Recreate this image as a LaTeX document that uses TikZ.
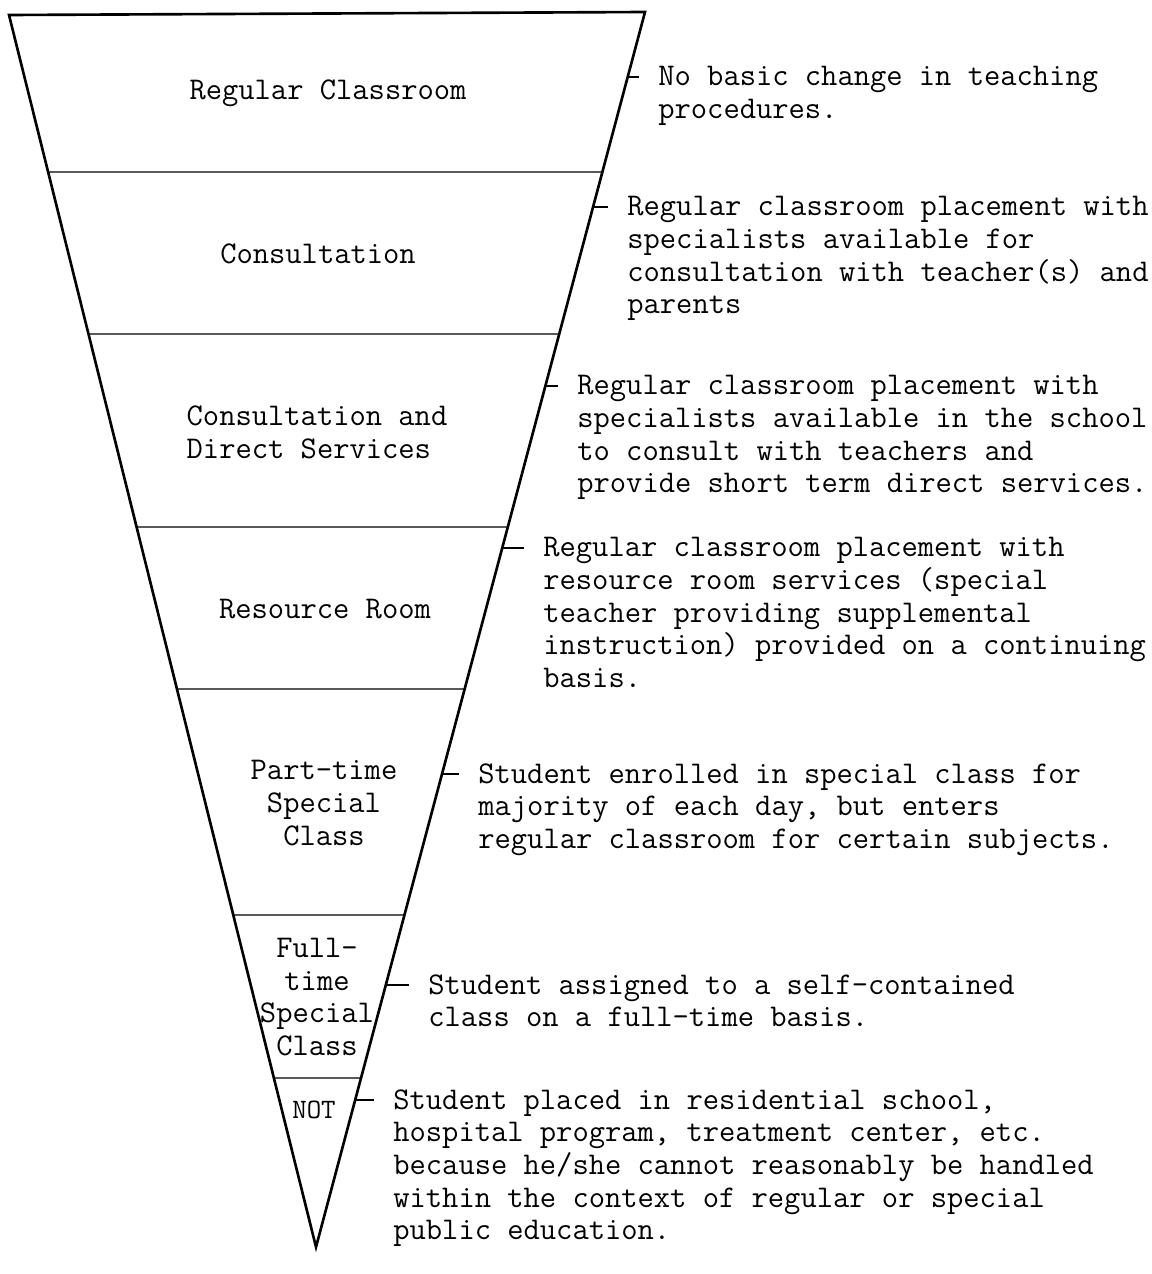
\documentclass[tikz,border=0pt]{standalone}
\usepackage{tikz}
\usetikzlibrary{calc}

\newcommand{\tierfont}{\ttfamily\fontsize{18}{18.6}\selectfont}
\newcommand{\notfont}{\ttfamily\fontsize{16}{18}\selectfont}

\begin{document}
\begin{tikzpicture}[
  x=0.02cm, y=-0.02cm,
  edge/.style={line width=1.5pt, line join=miter},
  divider/.style={line width=0.7pt},
  tick/.style={line width=0.7pt, shorten >=0.38cm},
  tier/.style={font=\tierfont, align=center, inner sep=0pt},
  note/.style={font=\tierfont, align=left, anchor=north west, inner sep=0pt}
]
\useasboundingbox (0,0) rectangle (1152,1274);

% outline of the inverted triangle
\coordinate (TL) at (9,15);
\coordinate (TR) at (645,12);
\coordinate (A) at (316,1247);
\draw[edge] (TL) -- (TR) -- (A) -- cycle;

% levels
\foreach \yy in {172,334,527,689,915,1078}
  \draw[divider] ($(TL)!{(\yy-15)/1232}!(A)$) -- ($(TR)!{(\yy-12)/1235}!(A)$);

% tier labels
\node[tier] (regular) at (328,93) {Regular Classroom};
\node[tier] (consult) at (318,254) {Consultation};
\node[tier, align=left] (direct) at (317,432) {Consultation and\\Direct Services};
\node[tier] (resource) at (325,609) {Resource Room};
\node[tier] (parttime) at (324,803) {Part-time\\Special\\Class};
\node[tier] (fulltime) at (317,997) {Full-\\time\\Special\\Class};
\node[tier, font=\notfont] (notpub) at (314,1110) {NOT};

% descriptions
\node[note] (d1) at (658,66) {No basic change in teaching\\procedures.};
\node[note] (d2) at (627,196) {Regular classroom placement with\\specialists available for\\consultation with teacher(s) and\\parents};
\node[note] (d3) at (577,375) {Regular classroom placement with\\specialists available in the school\\to consult with teachers and\\provide short term direct services.};
\node[note] (d4) at (543,537) {Regular classroom placement with\\resource room services (special\\teacher providing supplemental\\instruction) provided on a continuing\\basis.};
\node[note] (d5) at (478,763) {Student enrolled in special class for\\majority of each day, but enters\\regular classroom for certain subjects.};
\node[note] (d6) at (428,974) {Student assigned to a self-contained\\class on a full-time basis.};
\node[note] (d7) at (393,1089) {Student placed in residential school,\\hospital program, treatment center, etc.\\because he/she cannot reasonably be handled\\within the context of regular or special\\public education.};

% ticks from the edge to each description
\foreach \yy [count=\i] in {77,207,386,548,774,985,1100}
  \coordinate (e\i) at ($(TR)!{(\yy-12)/1235}!(A)$);
\foreach \i in {1,...,7}
  \draw[tick] (e\i) -- (e\i -| d\i.west);
\end{tikzpicture}
\end{document}
